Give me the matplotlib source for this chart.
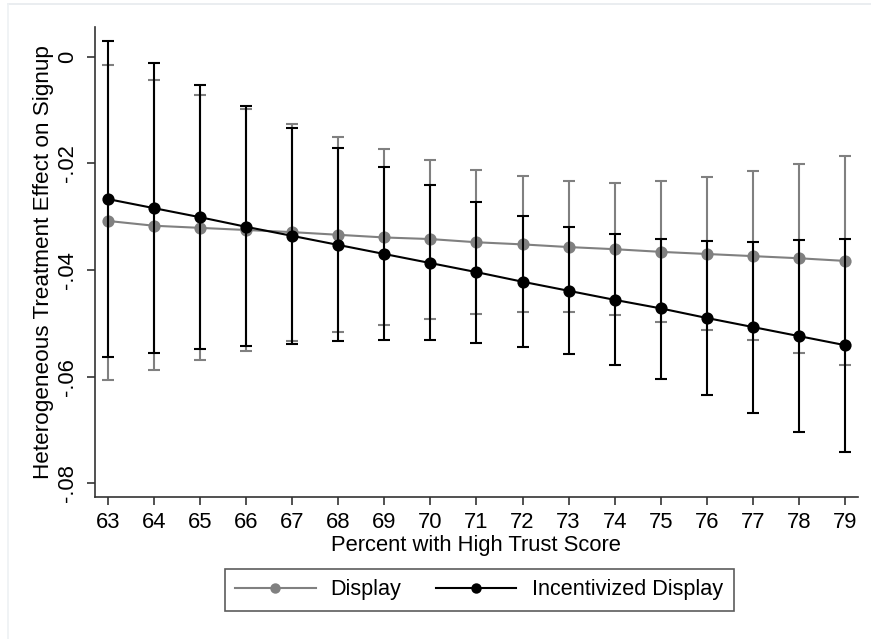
import matplotlib.pyplot as plt
import numpy as np
from matplotlib.lines import Line2D

plt.rcParams["font.family"] = ["Liberation Sans", "DejaVu Sans"]

# percent with high trust score
pct = [63, 64, 65, 66, 67, 68, 69, 70, 71, 72, 73, 74, 75, 76, 77, 78, 79]

# Display: point estimate and 95% CI
disp_est = [-0.0308, -0.0317, -0.0321, -0.0325, -0.0329, -0.0334, -0.0339, -0.0342, -0.0348,
            -0.0352, -0.0357, -0.0361, -0.0366, -0.0370, -0.0374, -0.0378, -0.0383]
disp_hi = [-0.0016, -0.0044, -0.0072, -0.0098, -0.0126, -0.0150, -0.0173, -0.0194, -0.0212,
           -0.0224, -0.0233, -0.0236, -0.0233, -0.0226, -0.0215, -0.0201, -0.0186]
disp_lo = [-0.0607, -0.0587, -0.0569, -0.0551, -0.0534, -0.0517, -0.0503, -0.0491, -0.0482,
           -0.0478, -0.0479, -0.0485, -0.0497, -0.0513, -0.0532, -0.0555, -0.0579]

# Incentivized Display: point estimate and 95% CI
inc_est = [-0.0267, -0.0284, -0.0301, -0.0319, -0.0336, -0.0353, -0.0370, -0.0387, -0.0404,
           -0.0422, -0.0439, -0.0456, -0.0472, -0.0490, -0.0507, -0.0524, -0.0541]
inc_hi = [0.0030, -0.0011, -0.0053, -0.0093, -0.0133, -0.0171, -0.0207, -0.0241, -0.0272,
          -0.0298, -0.0319, -0.0333, -0.0342, -0.0346, -0.0347, -0.0344, -0.0341]
inc_lo = [-0.0563, -0.0556, -0.0549, -0.0543, -0.0538, -0.0534, -0.0532, -0.0532, -0.0536,
          -0.0544, -0.0557, -0.0578, -0.0604, -0.0634, -0.0668, -0.0704, -0.0741]

y_ticks = [0, -0.02, -0.04, -0.06, -0.08]
y_tick_labels = ["0", "-.02", "-.04", "-.06", "-.08"]

GRAY = "#808080"
BLACK = "#000000"
AXIS_COLOR = "#333333"


def draw_series(ax, est, lo, hi, color, z):
    x = np.array(pct, dtype=float)
    est = np.array(est)
    yerr = np.vstack([est - np.array(lo), np.array(hi) - est])
    ax.errorbar(x, est, yerr=yerr, fmt="none", ecolor=color, elinewidth=1.5,
                capsize=4.3, capthick=1.5, zorder=z)
    ax.plot(x, est, color=color, linewidth=1.5, marker="o", markersize=8.8,
            markeredgewidth=0, zorder=z + 1)


fig = plt.figure(figsize=(8.71, 6.39), dpi=100)
ax = fig.add_axes([0.109, 0.222, 0.876, 0.736])

# faint outer graph region border (top and left edges visible)
fig.add_artist(Line2D([8 / 871, 1.0], [1 - 4 / 639, 1 - 4 / 639], transform=fig.transFigure,
                      color="#e6eaee", linewidth=1.2))
fig.add_artist(Line2D([8 / 871, 8 / 871], [0.0, 1 - 4 / 639], transform=fig.transFigure,
                      color="#eef1f3", linewidth=1.2))

draw_series(ax, disp_est, disp_lo, disp_hi, GRAY, 2)
draw_series(ax, inc_est, inc_lo, inc_hi, BLACK, 4)

ax.set_xlim(62.72, 79.28)
ax.set_ylim(-0.0826, 0.0056)
ax.set_xticks(pct)
ax.set_xticklabels([str(p) for p in pct])
ax.set_yticks(y_ticks)
ax.set_yticklabels(y_tick_labels, rotation=90, va="center")

for side in ["top", "right"]:
    ax.spines[side].set_visible(False)
for side in ["left", "bottom"]:
    ax.spines[side].set_color(AXIS_COLOR)
    ax.spines[side].set_linewidth(1.2)
ax.tick_params(axis="both", direction="out", length=6, width=1.2, color=AXIS_COLOR,
               labelsize=15.8)
ax.tick_params(axis="x", pad=5)
ax.tick_params(axis="y", pad=6)

ax.set_xlabel("Percent with High Trust Score", fontsize=15.8, labelpad=1)
ax.set_ylabel("Heterogeneous Treatment Effect on Signup", fontsize=16.2, labelpad=2)

handles = [
    Line2D([], [], color=GRAY, linewidth=1.5, marker="o", markersize=7.5, markeredgewidth=0),
    Line2D([], [], color=BLACK, linewidth=1.5, marker="o", markersize=7.5, markeredgewidth=0),
]
leg = fig.legend(handles, ["Display", "Incentivized Display"], loc="center",
                 bbox_to_anchor=(479 / 871, 1 - 590 / 639), ncol=2, fontsize=15.6,
                 frameon=True, fancybox=False, handlelength=3.7, columnspacing=1.6,
                 handletextpad=0.7, borderpad=0.5, borderaxespad=0)
leg.get_frame().set_edgecolor(AXIS_COLOR)
leg.get_frame().set_linewidth(1.2)

fig.savefig("out.png", dpi=100)
